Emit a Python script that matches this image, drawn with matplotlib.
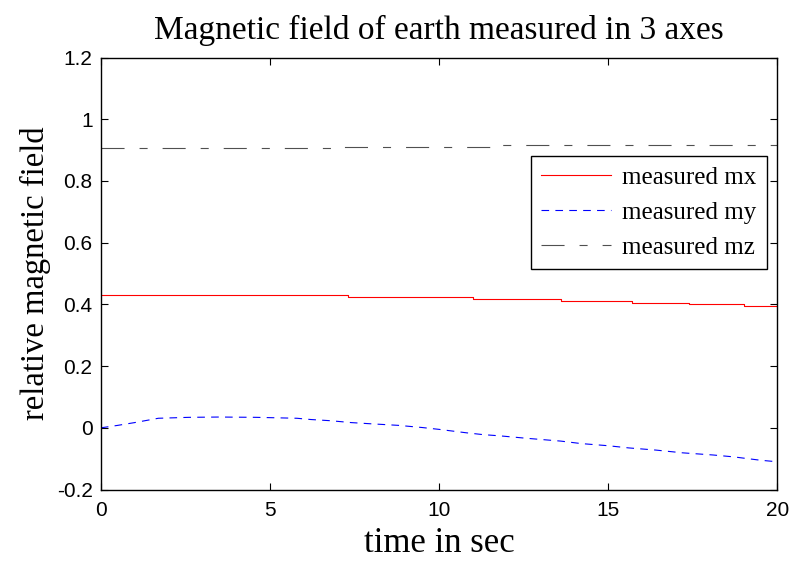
import matplotlib
matplotlib.use("Agg")
import matplotlib.pyplot as plt

t_mx = [0, 7.3, 11.0, 13.6, 15.7, 17.4, 19.0, 20]
mx = [0.429, 0.424, 0.418, 0.412, 0.406, 0.400, 0.394, 0.394]

t_my = [0, 0.5, 1.0, 1.7, 2.6, 3.5, 4.6, 5.8, 6.2, 6.8, 7.4, 8.0, 8.8, 9.5,
        10.0, 10.8, 11.3, 11.8, 12.6, 13.6, 14.2, 15.0, 15.6, 16.4, 17.2,
        18.1, 18.7, 19.5, 20.0]
my = [0, 0.008, 0.017, 0.031, 0.034, 0.035, 0.034, 0.031, 0.027, 0.023,
      0.017, 0.013, 0.008, 0.001, -0.005, -0.016, -0.022, -0.026, -0.034,
      -0.043, -0.051, -0.058, -0.065, -0.072, -0.081, -0.088, -0.094,
      -0.105, -0.110]

t_mz = [0, 6.8, 11.5, 20]
mz = [0.906, 0.911, 0.915, 0.915]

labels = ['measured mx', 'measured my', 'measured mz']
xticks = [0, 5, 10, 15, 20]
yticks = [-0.2, 0, 0.2, 0.4, 0.6, 0.8, 1, 1.2]
yticklabels = ['-0.2', '0', '0.2', '0.4', '0.6', '0.8', '1', '1.2']

plt.rcParams['lines.scale_dashes'] = False
serif = ['Liberation Serif', 'DejaVu Serif']
sans = ['Liberation Sans', 'DejaVu Sans']

fig = plt.figure(figsize=(7.94, 5.64), dpi=100)
ax = fig.add_axes([0.127, 0.132, 0.852, 0.766])

ax.plot(t_mx, mx, color='#ff0000', lw=0.8, drawstyle='steps-post', label=labels[0])
ax.plot(t_my, my, color='#0000ff', lw=0.8, linestyle=(0, (5.5, 4.5)), label=labels[1])
ax.plot(t_mz, mz, color='#505050', lw=0.8, drawstyle='steps-post',
        linestyle=(0, (16.6, 10.8, 5.8, 10.8)), label=labels[2])

ax.set_xlim(0, 20)
ax.set_ylim(-0.2, 1.2)
ax.set_xticks(xticks)
ax.set_xticklabels([str(v) for v in xticks], fontfamily=sans, fontsize=15)
ax.set_yticks(yticks)
ax.set_yticklabels(yticklabels, fontfamily=sans, fontsize=15)
ax.tick_params(direction='in', length=5, width=0.8, top=True, right=True)
ax.tick_params(axis='x', pad=8)
ax.tick_params(axis='y', pad=6)
for s in ax.spines.values():
    s.set_linewidth(1.0)

ax.set_title('Magnetic field of earth measured in 3 axes', fontfamily=serif,
             fontsize=24, pad=13)
ax.set_xlabel('time in sec', fontfamily=serif, fontsize=25, labelpad=5)
ax.set_ylabel('relative magnetic field', fontfamily=serif, fontsize=23.5, labelpad=4)

leg = ax.legend(loc='upper right', bbox_to_anchor=(0.984, 0.772),
                prop={'family': serif, 'size': 18}, fancybox=False,
                framealpha=1, edgecolor='black', handlelength=2.8,
                labelspacing=0.5, borderpad=0.4, handletextpad=0.45,
                borderaxespad=0)
leg.get_frame().set_linewidth(1.0)

fig.savefig('out.png', dpi=100)
